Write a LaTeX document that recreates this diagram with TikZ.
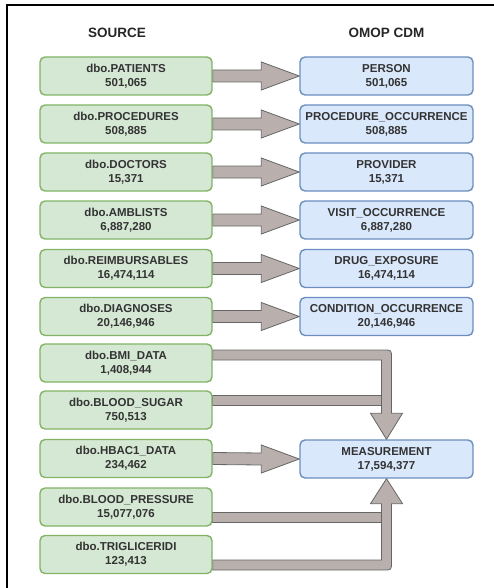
\documentclass[tikz,border=0pt]{standalone}
\usepackage{fontspec}
\setmainfont{Liberation Sans}
\usetikzlibrary{calc,backgrounds}

\definecolor{srcfill}{HTML}{D5E8D4}
\definecolor{srcline}{HTML}{82B366}
\definecolor{cdmfill}{HTML}{DAE8FC}
\definecolor{cdmline}{HTML}{6C8EBF}
\definecolor{arrowfill}{HTML}{B9B0AD}
\definecolor{arrowline}{HTML}{666666}

% straight block arrow from a source table to its target table
\newcommand\flowarrow[2]{%
  \draw[flow] ($(#1.east)+(0,-6)$) -- ($(#2.west)+(-38,-6)$)
    -- ($(#2.west)+(-38,-14)$) -- (#2.west) -- ($(#2.west)+(-38,14)$)
    -- ($(#2.west)+(-38,6)$) -- ($(#1.east)+(0,6)$) -- cycle;}

\begin{document}
\begin{tikzpicture}[x=1pt,y=-1pt,
  box/.style={rounded corners=5pt, line width=1.4pt, minimum height=38pt,
    align=center, inner sep=0pt, text=black!80,
    font=\bfseries\fontsize{11.5}{14}\selectfont},
  src/.style={box, draw=srcline, fill=srcfill, minimum width=172pt},
  cdm/.style={box, draw=cdmline, fill=cdmfill, minimum width=173pt},
  hdr/.style={font=\bfseries\fontsize{13.5}{16}\selectfont, text=black!85},
  flow/.style={draw=arrowline, fill=arrowfill, line width=0.8pt, line join=miter}]

\useasboundingbox (0,0) rectangle (494,588);

% page frame
\draw[line width=2pt] (7,588) -- (7,5) -- (494,5);

% column headers
\node[hdr] (hsrc) at (117,33) {SOURCE};
\node[hdr] (hcdm) at (386.5,33) {OMOP CDM};

% source tables
\node[src] (pat)  at (126,76)    {dbo.PATIENTS\\501,065};
\node[src] (proc) at (126,124)   {dbo.PROCEDURES\\508,885};
\node[src] (doc)  at (126,172)   {dbo.DOCTORS\\15,371};
\node[src] (amb)  at (126,220)   {dbo.AMBLISTS\\6,887,280};
\node[src] (reim) at (126,268.5) {dbo.REIMBURSABLES\\16,474,114};
\node[src] (diag) at (126,316.5) {dbo.DIAGNOSES\\20,146,946};
\node[src] (bmi)  at (126,363)   {dbo.BMI\_DATA\\1,408,944};
\node[src] (sug)  at (126,410)   {dbo.BLOOD\_SUGAR\\750,513};
\node[src] (hba)  at (126,458.5) {dbo.HBAC1\_DATA\\234,462};
\node[src] (bp)   at (126,507)   {dbo.BLOOD\_PRESSURE\\15,077,076};
\node[src] (tri)  at (126,554.5) {dbo.TRIGLICERIDI\\123,413};

% OMOP CDM tables
\node[cdm] (person) at (386.5,76)    {PERSON\\501,065};
\node[cdm] (prococ) at (386.5,124)   {PROCEDURE\_OCCURRENCE\\508,885};
\node[cdm] (prov)   at (386.5,172)   {PROVIDER\\15,371};
\node[cdm] (visit)  at (386.5,220)   {VISIT\_OCCURRENCE\\6,887,280};
\node[cdm] (drug)   at (386.5,268.5) {DRUG\_EXPOSURE\\16,474,114};
\node[cdm] (cond)   at (386.5,316.5) {CONDITION\_OCCURRENCE\\20,146,946};
\node[cdm] (meas)   at (386.5,459)   {MEASUREMENT\\17,594,377};

% shaft centre lines of the merging arrows
\coordinate (bmiA) at ($(bmi.east)+(0,-8)$);
\coordinate (sugA) at ($(sug.east)+(0,-10)$);
\coordinate (bpA)  at ($(bp.east)+(0,10)$);
\coordinate (triA) at ($(tri.east)+(0,10.5)$);
\coordinate (downBend) at (meas.north |- bmiA);
\coordinate (upBend)   at (meas.south |- triA);

\begin{scope}[on background layer]
  \flowarrow{pat}{person}
  \flowarrow{proc}{prococ}
  \flowarrow{doc}{prov}
  \flowarrow{amb}{visit}
  \flowarrow{reim}{drug}
  \flowarrow{diag}{cond}
  \flowarrow{hba}{meas}

  % side feeds joining the vertical trunks
  \draw[flow] ($(sugA)+(0,-5)$) rectangle ($(meas.north |- sugA)+(-4,5)$);
  \draw[flow] ($(bpA)+(0,-5)$) rectangle ($(meas.south |- bpA)+(-4,5)$);

  % trunk from above into MEASUREMENT
  \draw[flow] ($(bmiA)+(0,-5)$) -- ($(downBend)+(-3,-5)$)
    .. controls ($(downBend)+(5,-5)$) .. ($(downBend)+(5,3)$)
    -- ($(meas.north)+(5,-26)$) -- ($(meas.north)+(16,-26)$)
    -- (meas.north) -- ($(meas.north)+(-16,-26)$)
    -- ($(meas.north)+(-5,-26)$) -- ($(downBend)+(-5,5)$)
    -- ($(bmiA)+(0,5)$) -- cycle;

  % trunk from below into MEASUREMENT
  \draw[flow] ($(triA)+(0,5)$) -- ($(upBend)+(-3,5)$)
    .. controls ($(upBend)+(5,5)$) .. ($(upBend)+(5,-3)$)
    -- ($(meas.south)+(5,25)$) -- ($(meas.south)+(16,25)$)
    -- (meas.south) -- ($(meas.south)+(-16,25)$)
    -- ($(meas.south)+(-5,25)$) -- ($(upBend)+(-5,-5)$)
    -- ($(triA)+(0,-5)$) -- cycle;
\end{scope}
\end{tikzpicture}
\end{document}
